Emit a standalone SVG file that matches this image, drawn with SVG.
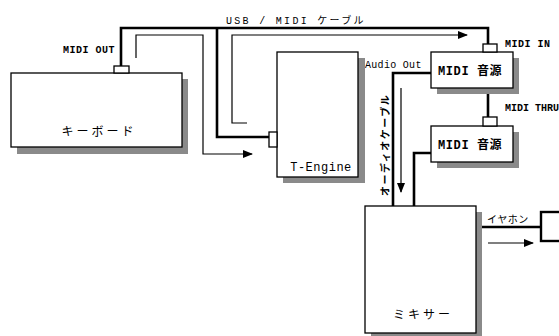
<svg xmlns="http://www.w3.org/2000/svg" width="559" height="336" viewBox="0 0 559 336">
<defs>
<style>
.box{fill:#fff;stroke:#000;stroke-width:1.3}
.sh{fill:#8a8a8a}
.thick{fill:none;stroke:#000;stroke-width:2.6}
.thin{fill:none;stroke:#000;stroke-width:1.2}
.t{font-family:"Liberation Mono","Noto Sans CJK JP",monospace;font-size:10px;fill:#000}
.lb{font-family:"Liberation Mono","Noto Sans CJK JP",monospace;font-size:12px;fill:#000}
</style>
<marker id="ah" viewBox="0 0 10 8" refX="9" refY="4" markerWidth="10" markerHeight="8" markerUnits="userSpaceOnUse" orient="auto">
<path d="M0,0 L10,4 L0,8 Z" fill="#000"/>
</marker>
</defs>
<rect width="559" height="336" fill="#fff"/>

<g id="connectors">
<polyline class="thick" points="121,66 121,28 488,28 488,44"/>
<polyline class="thick" points="217,28 217,137 269,137"/>
<polyline class="thin" points="136,58 136,35 203,35 203,154 252,154" marker-end="url(#ah)"/>
<polyline class="thin" points="247,123 232,123 232,35 467,35" marker-end="url(#ah)"/>
<line class="thick" x1="488" y1="88" x2="488" y2="117"/>
<polyline class="thick" points="431,73 393,73 393,206"/>
<polyline class="thick" points="431,153 414,153 414,206"/>
<line class="thin" x1="401" y1="88" x2="401" y2="192" marker-end="url(#ah)"/>
<line class="thick" x1="474" y1="227" x2="541" y2="227"/>
<line class="thin" x1="488" y1="243" x2="533" y2="243" marker-end="url(#ah)"/>
<text class="t" x="226" y="24" letter-spacing="2.3">USB / MIDI ケーブル</text>
<text class="t" x="63" y="53" font-weight="bold" font-size="9" letter-spacing="0.5">MIDI OUT</text>
<text class="t" x="505" y="47" font-weight="bold" font-size="9" letter-spacing="0.5">MIDI IN</text>
<text class="t" x="505" y="111" font-weight="bold" font-size="8.5">MIDI THRU</text>
<text class="t" x="365" y="68" letter-spacing="0.3">Audio Out</text>
<text class="t" transform="translate(389,196) rotate(-90)" letter-spacing="1.5" font-size="10" font-weight="bold">オーディオケーブル</text>
<text class="t" x="487" y="223" letter-spacing="0.5">イヤホン</text>
</g>

<g id="keyboard">
<rect class="sh" x="17" y="79" width="171" height="75"/>
<rect class="box" x="11" y="73" width="171" height="74"/>
<rect class="box" x="114" y="66" width="15" height="7"/>
<text class="lb" x="99" y="136" text-anchor="middle" letter-spacing="3">キーボード</text>
</g>

<g id="t-engine">
<rect class="sh" x="283" y="58" width="82" height="125"/>
<rect class="box" x="277" y="52" width="81" height="125"/>
<rect class="box" x="269" y="132" width="8" height="15"/>
<text class="lb" x="321" y="171" text-anchor="middle" letter-spacing="0.5" font-size="11">T-Engine</text>
</g>

<g id="midi1">
<rect class="sh" x="437" y="58" width="82" height="36"/>
<rect class="box" x="431" y="52" width="82" height="36"/>
<rect class="box" x="483" y="44" width="14" height="8"/>
<text class="lb" x="438" y="75" font-weight="bold" font-size="10.5" letter-spacing="0.6">MIDI 音源</text>
</g>

<g id="midi2">
<rect class="sh" x="437" y="132" width="82" height="36"/>
<rect class="box" x="431" y="126" width="82" height="36"/>
<rect class="box" x="483" y="117" width="14" height="9"/>
<text class="lb" x="438" y="149" font-weight="bold" font-size="10.5" letter-spacing="0.6">MIDI 音源</text>
</g>

<g id="mixer">
<rect class="sh" x="371" y="212" width="111" height="130"/>
<rect class="box" x="365" y="206" width="111" height="127"/>
<text class="lb" x="423" y="319" text-anchor="middle" letter-spacing="3">ミキサー</text>
</g>

<g id="earphone">
<rect x="541" y="212" width="30" height="29" fill="#fff" stroke="#000" stroke-width="2.4"/>
</g>
</svg>
